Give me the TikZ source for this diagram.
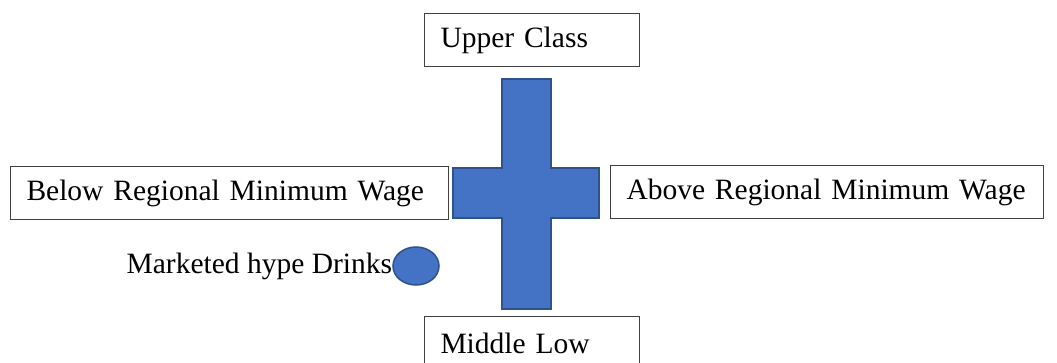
\documentclass[tikz,border=0pt]{standalone}
\usepackage{fontspec}
\setmainfont{Liberation Serif}
\usetikzlibrary{positioning,shapes.geometric}
\definecolor{Cross}{HTML}{4472C4}
\definecolor{CrossEdge}{HTML}{2F528F}
\definecolor{Frame}{HTML}{404040}
\tikzset{
  classbox/.style={draw=Frame, line width=1pt, fill=white, align=left, inner xsep=16pt, inner ysep=0pt, minimum height=53pt, anchor=north west, font=\fontsize{29.5}{34}\selectfont},
  crossbar/.style={draw=CrossEdge, line width=1.5pt, fill=Cross},
  blob/.style={ellipse, draw=CrossEdge, line width=1.5pt, fill=Cross, minimum width=46pt, minimum height=38pt, inner sep=0pt},
  tagtext/.style={inner sep=0pt, font=\fontsize{29.5}{34}\selectfont}
}

\begin{document}
\begin{tikzpicture}[x=1pt, y=-1pt]
\useasboundingbox[fill=white] (0,0) rectangle (1057,363);
\node[classbox, text width=183pt] (upper) at (424,13) {Upper Class};
\node[classbox, text width=406pt] (below) at (10,166) {Below Regional Minimum Wage};
\node[classbox, text width=401pt] (above) at (610,165) {Above Regional Minimum Wage};
\node[classbox, text width=183pt] (middle) at (424,316) {Middle Low};
% the cross between the four classes
\draw[crossbar] (502,79) -- (551,79) -- (551,168) -- (599,168) -- (599,218) -- (551,218) -- (551,309) -- (502,309) -- (502,218) -- (453,218) -- (453,168) -- (502,168) -- cycle;
\node[blob] (drinks) at (416,266) {};
\node[tagtext, left=0pt of drinks] (hype) {Marketed hype Drinks};
\end{tikzpicture}
\end{document}
